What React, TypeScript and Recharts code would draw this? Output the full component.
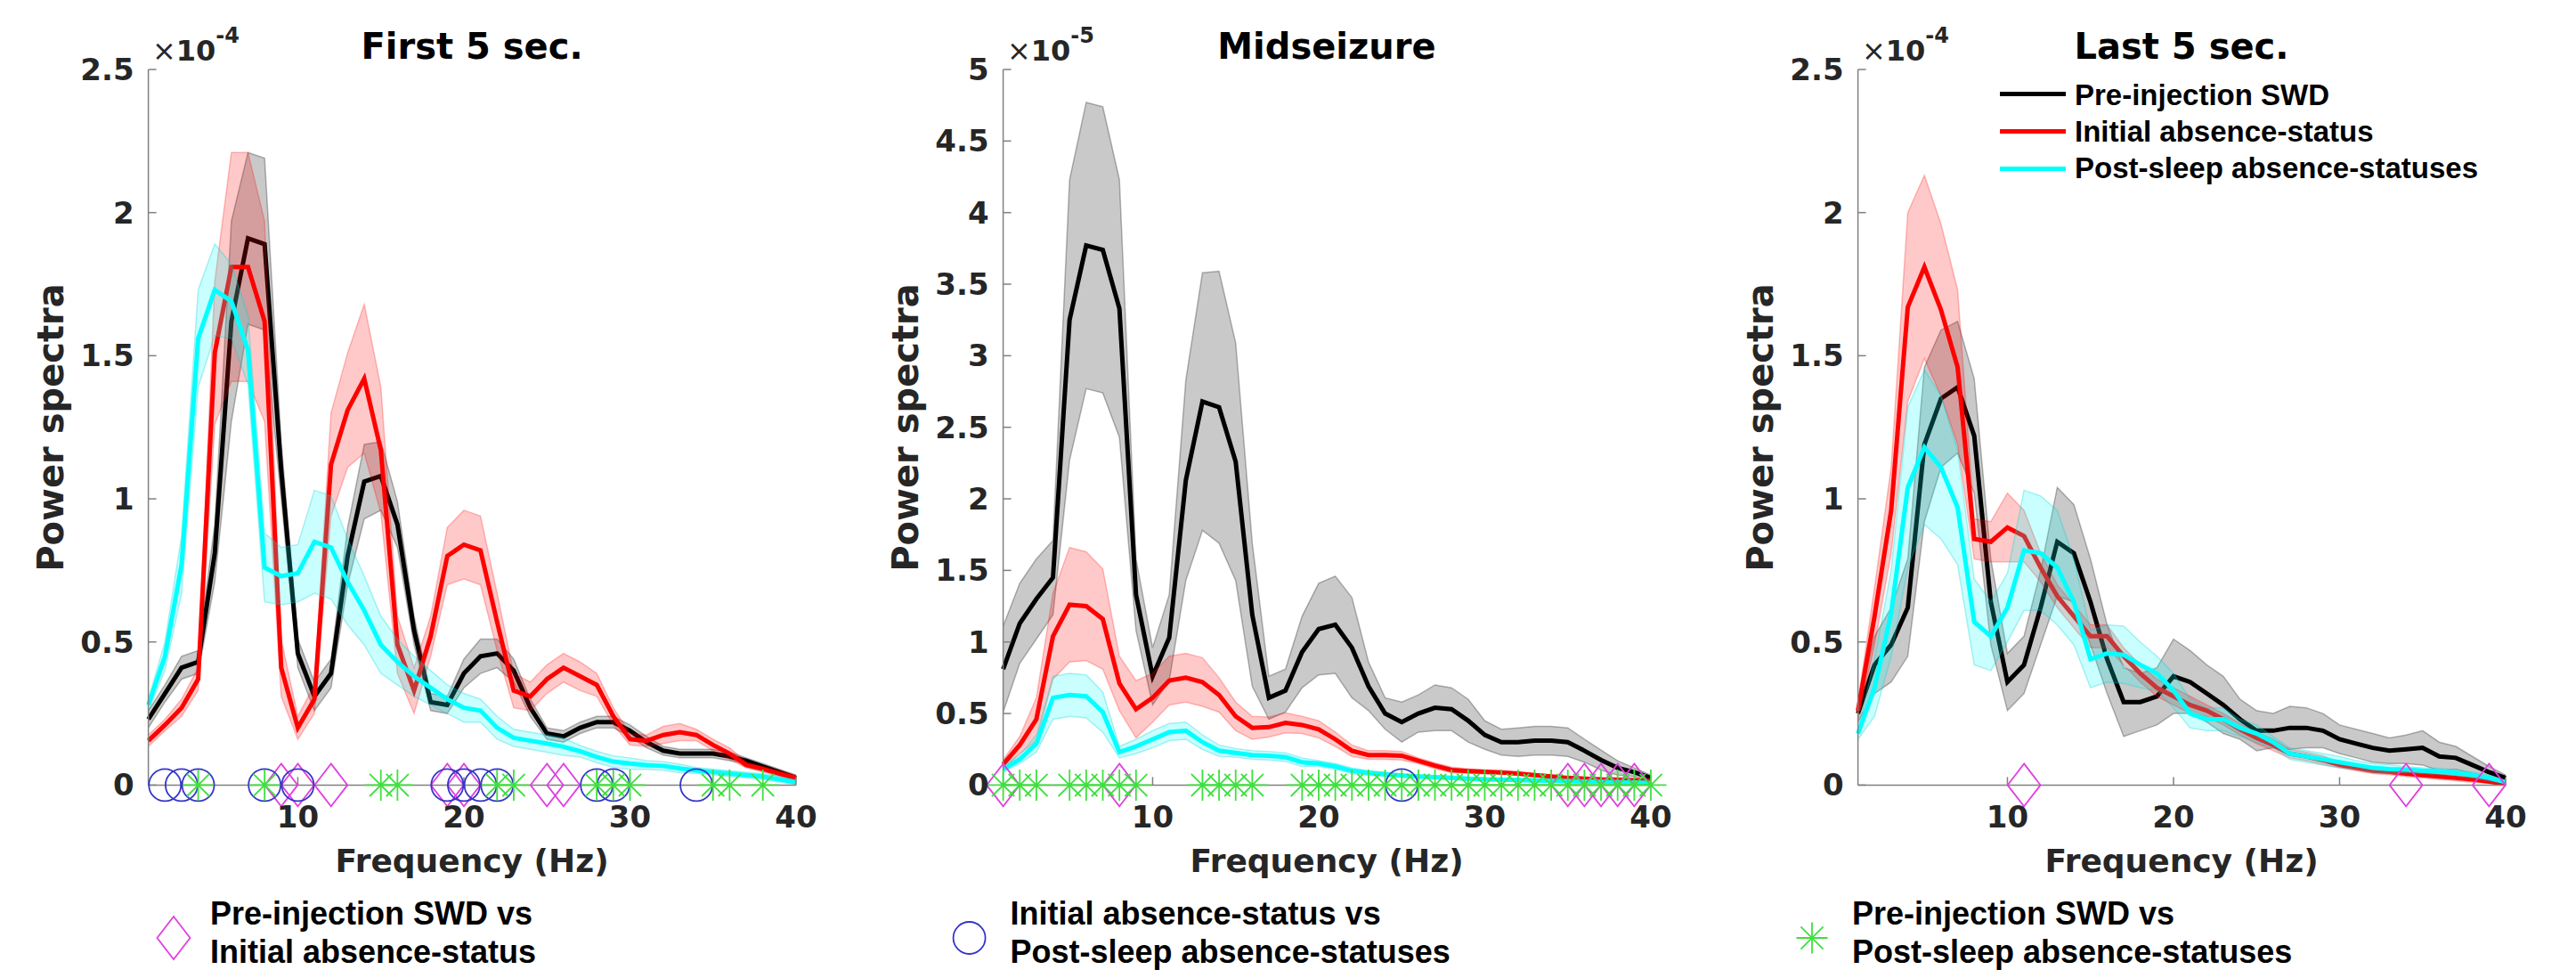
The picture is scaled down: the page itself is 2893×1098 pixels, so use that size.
import React from 'react';
import { ComposedChart, Line, Area, Scatter, XAxis, YAxis } from 'recharts';

const FONT_AXIS = "'DejaVu Sans', sans-serif";
const FONT_LEGEND = "'Liberation Sans', Arial, sans-serif";
const MAGENTA = '#e040e0';
const BLUE = '#3535c8';
const GREEN = '#3ee03e';
const AXIS_GRAY = '#808080';
const TEXT = '#262626';
const LINE_W = 5;

const freqs = [1, 2, 3, 4, 5, 6, 7, 8, 9, 10, 11, 12, 13, 14, 15, 16, 17, 18, 19, 20, 21, 22, 23, 24, 25, 26, 27, 28, 29, 30, 31, 32, 33, 34, 35, 36, 37, 38, 39, 40];
const xTicks = [10, 20, 30, 40];
const yTicks25 = [0, 0.5, 1, 1.5, 2, 2.5];
const yTicks5 = [0, 0.5, 1, 1.5, 2, 2.5, 3, 3.5, 4, 4.5, 5];

// First 5 sec. (x1e-4)
const firstPre = [0.23, 0.32, 0.41, 0.43, 0.81, 1.62, 1.91, 1.89, 1.1, 0.46, 0.31, 0.39, 0.8, 1.06, 1.08, 0.91, 0.54, 0.29, 0.28, 0.39, 0.45, 0.46, 0.4, 0.27, 0.18, 0.17, 0.2, 0.22, 0.22, 0.19, 0.15, 0.12, 0.11, 0.11, 0.11, 0.1, 0.085, 0.065, 0.045, 0.025];
const firstPreErr = [0.03, 0.03, 0.04, 0.04, 0.1, 0.35, 0.3, 0.3, 0.1, 0.05, 0.05, 0.05, 0.1, 0.13, 0.12, 0.08, 0.05, 0.03, 0.03, 0.05, 0.06, 0.05, 0.04, 0.03, 0.02, 0.02, 0.02, 0.02, 0.02, 0.02, 0.02, 0.015, 0.015, 0.015, 0.015, 0.015, 0.01, 0.01, 0.01, 0.01];
const firstInit = [0.155, 0.21, 0.27, 0.37, 1.51, 1.81, 1.81, 1.62, 0.41, 0.2, 0.3, 1.12, 1.31, 1.42, 1.17, 0.49, 0.33, 0.52, 0.8, 0.84, 0.82, 0.57, 0.33, 0.31, 0.37, 0.41, 0.38, 0.35, 0.24, 0.16, 0.155, 0.175, 0.185, 0.175, 0.14, 0.11, 0.07, 0.056, 0.04, 0.025];
const firstInitErr = [0.02, 0.02, 0.03, 0.04, 0.25, 0.4, 0.4, 0.35, 0.1, 0.04, 0.05, 0.18, 0.2, 0.26, 0.22, 0.1, 0.08, 0.07, 0.1, 0.12, 0.12, 0.1, 0.06, 0.05, 0.05, 0.05, 0.05, 0.04, 0.03, 0.02, 0.02, 0.03, 0.03, 0.02, 0.02, 0.02, 0.01, 0.01, 0.01, 0.01];
const firstPost = [0.28, 0.45, 0.77, 1.56, 1.73, 1.69, 1.52, 0.76, 0.73, 0.74, 0.85, 0.83, 0.71, 0.61, 0.49, 0.43, 0.38, 0.34, 0.3, 0.27, 0.26, 0.2, 0.165, 0.155, 0.145, 0.134, 0.118, 0.098, 0.082, 0.075, 0.07, 0.067, 0.058, 0.051, 0.046, 0.04, 0.035, 0.03, 0.02, 0.01];
const firstPostErr = [0.02, 0.05, 0.1, 0.17, 0.16, 0.13, 0.12, 0.12, 0.1, 0.1, 0.18, 0.18, 0.15, 0.12, 0.1, 0.08, 0.07, 0.06, 0.05, 0.05, 0.04, 0.04, 0.03, 0.03, 0.03, 0.03, 0.02, 0.02, 0.02, 0.02, 0.015, 0.015, 0.015, 0.01, 0.01, 0.01, 0.01, 0.01, 0.01, 0.008];
const firstDiamonds = [9, 10, 12, 19, 20, 25, 26];
const firstCircles = [2, 3, 4, 8, 10, 19, 20, 21, 22, 28, 29, 34];
const firstStars = [4, 8, 15, 16, 22, 23, 28, 29, 30, 35, 36, 38];

// Midseizure (x1e-5)
const midPre = [0.81, 1.13, 1.3, 1.45, 3.25, 3.77, 3.74, 3.33, 1.33, 0.76, 1.03, 2.13, 2.68, 2.64, 2.26, 1.19, 0.61, 0.66, 0.93, 1.09, 1.12, 0.96, 0.69, 0.5, 0.44, 0.5, 0.54, 0.53, 0.45, 0.35, 0.3, 0.3, 0.31, 0.31, 0.3, 0.24, 0.175, 0.12, 0.09, 0.05];
const midPreErr = [0.3, 0.28, 0.28, 0.26, 0.98, 1.0, 1.0, 0.9, 0.25, 0.2, 0.3, 0.7, 0.9, 0.95, 0.83, 0.5, 0.15, 0.15, 0.25, 0.32, 0.34, 0.35, 0.17, 0.11, 0.14, 0.13, 0.16, 0.15, 0.15, 0.1, 0.09, 0.1, 0.1, 0.1, 0.1, 0.08, 0.07, 0.05, 0.03, 0.02];
const midInit = [0.145, 0.28, 0.46, 1.04, 1.26, 1.25, 1.16, 0.71, 0.53, 0.61, 0.73, 0.75, 0.72, 0.63, 0.48, 0.4, 0.405, 0.435, 0.42, 0.39, 0.32, 0.24, 0.21, 0.21, 0.205, 0.17, 0.135, 0.105, 0.098, 0.092, 0.088, 0.08, 0.07, 0.06, 0.05, 0.045, 0.04, 0.038, 0.034, 0.03];
const midInitErr = [0.03, 0.06, 0.15, 0.3, 0.4, 0.38, 0.35, 0.19, 0.2, 0.17, 0.17, 0.17, 0.17, 0.12, 0.1, 0.08, 0.07, 0.07, 0.06, 0.06, 0.05, 0.04, 0.03, 0.03, 0.03, 0.02, 0.02, 0.02, 0.015, 0.015, 0.01, 0.01, 0.01, 0.01, 0.01, 0.01, 0.01, 0.01, 0.01, 0.01];
const midPost = [0.11, 0.18, 0.29, 0.61, 0.63, 0.62, 0.51, 0.23, 0.27, 0.32, 0.37, 0.38, 0.3, 0.24, 0.225, 0.21, 0.205, 0.195, 0.16, 0.15, 0.13, 0.1, 0.085, 0.075, 0.067, 0.06, 0.055, 0.05, 0.045, 0.04, 0.038, 0.035, 0.032, 0.03, 0.028, 0.025, 0.022, 0.02, 0.018, 0.015];
const midPostErr = [0.02, 0.03, 0.06, 0.15, 0.15, 0.15, 0.14, 0.04, 0.05, 0.06, 0.06, 0.06, 0.05, 0.04, 0.03, 0.03, 0.03, 0.03, 0.03, 0.02, 0.02, 0.02, 0.015, 0.015, 0.01, 0.01, 0.01, 0.01, 0.01, 0.01, 0.01, 0.01, 0.01, 0.01, 0.01, 0.01, 0.01, 0.01, 0.01, 0.01];
const midDiamonds = [1, 8, 35, 36, 37, 38, 39];
const midCircles = [25];
const midStars = [1, 2, 3, 5, 6, 7, 8, 9, 13, 14, 15, 16, 19, 20, 21, 22, 23, 24, 25, 26, 27, 28, 29, 30, 31, 32, 33, 34, 35, 36, 37, 38, 39, 40];

// Last 5 sec. (x1e-4)
const lastPre = [0.25, 0.42, 0.49, 0.62, 1.19, 1.35, 1.39, 1.22, 0.64, 0.36, 0.42, 0.62, 0.85, 0.81, 0.64, 0.44, 0.29, 0.29, 0.31, 0.38, 0.36, 0.32, 0.28, 0.23, 0.19, 0.19, 0.2, 0.2, 0.19, 0.16, 0.145, 0.13, 0.12, 0.125, 0.13, 0.1, 0.095, 0.07, 0.045, 0.025];
const lastPreErr = [0.03, 0.1, 0.13, 0.17, 0.27, 0.24, 0.23, 0.2, 0.15, 0.1, 0.1, 0.13, 0.19, 0.17, 0.15, 0.12, 0.12, 0.1, 0.1, 0.13, 0.11, 0.1, 0.1, 0.07, 0.07, 0.06, 0.075, 0.07, 0.06, 0.05, 0.05, 0.05, 0.045, 0.05, 0.06, 0.05, 0.04, 0.03, 0.02, 0.01];
const lastInit = [0.26, 0.59, 0.96, 1.67, 1.81, 1.66, 1.46, 0.86, 0.85, 0.9, 0.87, 0.76, 0.66, 0.59, 0.52, 0.52, 0.45, 0.39, 0.34, 0.31, 0.28, 0.26, 0.23, 0.195, 0.165, 0.14, 0.11, 0.1, 0.087, 0.07, 0.06, 0.05, 0.046, 0.04, 0.035, 0.03, 0.025, 0.02, 0.012, 0.004];
const lastInitErr = [0.03, 0.1, 0.15, 0.33, 0.32, 0.3, 0.27, 0.07, 0.07, 0.12, 0.09, 0.05, 0.04, 0.04, 0.04, 0.04, 0.03, 0.03, 0.03, 0.03, 0.03, 0.02, 0.02, 0.02, 0.02, 0.02, 0.015, 0.015, 0.015, 0.01, 0.01, 0.01, 0.01, 0.01, 0.01, 0.01, 0.01, 0.01, 0.005, 0.002];
const lastPost = [0.18, 0.34, 0.6, 1.04, 1.18, 1.11, 0.97, 0.57, 0.52, 0.62, 0.82, 0.81, 0.76, 0.64, 0.44, 0.46, 0.455, 0.42, 0.39, 0.33, 0.25, 0.23, 0.23, 0.2, 0.18, 0.15, 0.11, 0.1, 0.09, 0.08, 0.07, 0.06, 0.056, 0.054, 0.05, 0.048, 0.043, 0.035, 0.025, 0.01];
const lastPostErr = [0.02, 0.1, 0.15, 0.28, 0.27, 0.25, 0.2, 0.15, 0.12, 0.12, 0.21, 0.2, 0.2, 0.15, 0.1, 0.1, 0.1, 0.08, 0.06, 0.06, 0.05, 0.04, 0.04, 0.03, 0.03, 0.02, 0.02, 0.02, 0.02, 0.02, 0.015, 0.015, 0.015, 0.01, 0.01, 0.01, 0.01, 0.01, 0.01, 0.005];
const lastDiamonds = [11, 34, 39];
const lastCircles: number[] = [];
const lastStars: number[] = [];

const Diamond = ({ cx, cy }: { cx: number; cy: number }) => (
  <path d={`M${cx},${cy - 24} L${cx + 18.5},${cy} L${cx},${cy + 24} L${cx - 18.5},${cy} Z`} fill="none" stroke={MAGENTA} strokeWidth={1.8} />
);
const Ring = ({ cx, cy }: { cx: number; cy: number }) => (
  <circle cx={cx} cy={cy} r={18} fill="none" stroke={BLUE} strokeWidth={1.8} />
);
const Star = ({ cx, cy }: { cx: number; cy: number }) => {
  const r = 17.5;
  const d = r * 0.72;
  return (
    <path
      d={`M${cx - r},${cy} H${cx + r} M${cx},${cy - r} V${cy + r} M${cx - d},${cy - d} L${cx + d},${cy + d} M${cx - d},${cy + d} L${cx + d},${cy - d}`}
      fill="none"
      stroke={GREEN}
      strokeWidth={1.8}
    />
  );
};

const XTick = (props: any) => {
  const { x, y, payload } = props;
  return (
    <text x={x} y={y + 57} textAnchor="middle" fontFamily={FONT_AXIS} fontWeight="bold" fontSize={34} fill={TEXT}>
      {payload.value}
    </text>
  );
};

const YTick = (props: any) => {
  const { x, y, payload } = props;
  return (
    <text x={x - 25} y={y + 12} textAnchor="end" fontFamily={FONT_AXIS} fontWeight="bold" fontSize={34} fill={TEXT}>
      {payload.value}
    </text>
  );
};

interface PanelProps {
  left: number;
  pre: number[];
  preErr: number[];
  init: number[];
  initErr: number[];
  post: number[];
  postErr: number[];
  diamonds: number[];
  circles: number[];
  stars: number[];
  yTicks: number[];
}

function Panel({ left, pre, preErr, init, initErr, post, postErr, diamonds, circles, stars, yTicks }: PanelProps) {
  const rows = freqs.map((f, i) => ({
    f,
    bm: pre[i],
    bb: [pre[i] - preErr[i], pre[i] + preErr[i]],
    rm: init[i],
    rb: [init[i] - initErr[i], init[i] + initErr[i]],
    cm: post[i],
    cb: [post[i] - postErr[i], post[i] + postErr[i]],
  }));
  const toPts = (list: number[]) => list.map((f) => ({ f, v: 0 }));
  const yMax = yTicks[yTicks.length - 1];

  return (
    <div style={{ position: 'absolute', left, top: 0 }}>
      <ComposedChart width={960} height={1098} data={rows} margin={{ top: 78, right: 66, bottom: 156.6, left: 66.6 }}>
        <XAxis
          dataKey="f"
          type="number"
          domain={[1, 40]}
          ticks={xTicks}
          interval={0}
          height={60}
          tickSize={-9}
          tickMargin={0}
          axisLine={{ stroke: AXIS_GRAY, strokeWidth: 1.5 }}
          tickLine={{ stroke: AXIS_GRAY, strokeWidth: 1.5 }}
          tick={<XTick />}
          allowDecimals={false}
        />
        <YAxis
          type="number"
          domain={[0, yMax]}
          ticks={yTicks}
          interval={0}
          width={100}
          tickSize={-9}
          tickMargin={0}
          axisLine={{ stroke: AXIS_GRAY, strokeWidth: 1.5 }}
          tickLine={{ stroke: AXIS_GRAY, strokeWidth: 1.5 }}
          tick={<YTick />}
        />
        <Area dataKey="bb" type="linear" fill="#000000" fillOpacity={0.21} stroke="#000000" strokeOpacity={0.28} strokeWidth={1.5} dot={false} activeDot={false} isAnimationActive={false} zIndex={101} />
        <Line dataKey="bm" type="linear" stroke="#000000" strokeWidth={LINE_W} dot={false} activeDot={false} isAnimationActive={false} zIndex={102} />
        <Area dataKey="rb" type="linear" fill="#ff0000" fillOpacity={0.21} stroke="#ff0000" strokeOpacity={0.25} strokeWidth={1.5} dot={false} activeDot={false} isAnimationActive={false} zIndex={103} />
        <Line dataKey="rm" type="linear" stroke="#ff0000" strokeWidth={LINE_W} dot={false} activeDot={false} isAnimationActive={false} zIndex={104} />
        <Area dataKey="cb" type="linear" fill="#00ffff" fillOpacity={0.21} stroke="#00cccc" strokeOpacity={0.3} strokeWidth={1.5} dot={false} activeDot={false} isAnimationActive={false} zIndex={105} />
        <Line dataKey="cm" type="linear" stroke="#00ffff" strokeWidth={LINE_W} dot={false} activeDot={false} isAnimationActive={false} zIndex={106} />
        {diamonds.length > 0 && (
          <Scatter data={toPts(diamonds)} dataKey="v" isAnimationActive={false} shape={(p: any) => <Diamond cx={p.cx} cy={p.cy} />} />
        )}
        {circles.length > 0 && (
          <Scatter data={toPts(circles)} dataKey="v" isAnimationActive={false} shape={(p: any) => <Ring cx={p.cx} cy={p.cy} />} />
        )}
        {stars.length > 0 && (
          <Scatter data={toPts(stars)} dataKey="v" isAnimationActive={false} shape={(p: any) => <Star cx={p.cx} cy={p.cy} />} />
        )}
      </ComposedChart>
    </div>
  );
}

const titles = ['First 5 sec.', 'Midseizure', 'Last 5 sec.'];
const exponents = ['-4', '-5', '-4'];
const keyLines = [
  ['Pre-injection SWD vs', 'Initial absence-status'],
  ['Initial absence-status vs', 'Post-sleep absence-statuses'],
  ['Pre-injection SWD vs', 'Post-sleep absence-statuses'],
];
const seriesNames = ['Pre-injection SWD', 'Initial absence-status', 'Post-sleep absence-statuses'];
const seriesColors = ['#000000', '#ff0000', '#00ffff'];

function Overlay() {
  const keyMarkers = [
    <Diamond key="d" cx={195} cy={1053} />,
    <Ring key="c" cx={1088.6} cy={1053} />,
    <Star key="s" cx={2035} cy={1053} />,
  ];
  const keyTextX = [236, 1134.5, 2080];
  return (
    <svg width={2893} height={1098} style={{ position: 'absolute', left: 0, top: 0, pointerEvents: 'none' }}>
      {titles.map((t, i) => (
        <g key={t}>
          <text x={530 + i * 960} y={66} textAnchor="middle" fontFamily={FONT_AXIS} fontWeight="bold" fontSize={40} fill="#000">
            {t}
          </text>
          <text x={171 + i * 960} y={68} fontFamily={FONT_AXIS} fontSize={32} fill={TEXT}>
            <tspan>×</tspan>
            <tspan fontWeight="bold">10</tspan>
            <tspan fontWeight="bold" fontSize={24} dy={-20}>{exponents[i]}</tspan>
          </text>
          <text x={530 + i * 960} y={979} textAnchor="middle" fontFamily={FONT_AXIS} fontWeight="bold" fontSize={36} fill={TEXT}>
            Frequency (Hz)
          </text>
          <text
            x={57 + i * 960}
            y={480}
            textAnchor="middle"
            dominantBaseline="central"
            transform={`rotate(-90 ${57 + i * 960} 480)`}
            fontFamily={FONT_AXIS}
            fontWeight="bold"
            fontSize={40}
            fill={TEXT}
          >
            Power spectra
          </text>
          {keyMarkers[i]}
          <text x={keyTextX[i]} y={1038} fontFamily={FONT_LEGEND} fontWeight="bold" fontSize={36} fill="#000">
            {keyLines[i][0]}
          </text>
          <text x={keyTextX[i]} y={1081} fontFamily={FONT_LEGEND} fontWeight="bold" fontSize={36} fill="#000">
            {keyLines[i][1]}
          </text>
        </g>
      ))}
      {seriesNames.map((name, i) => (
        <g key={name}>
          <line x1={2246} x2={2320} y1={105.4 + i * 42} y2={105.4 + i * 42} stroke={seriesColors[i]} strokeWidth={5} />
          <text x={2330} y={118 + i * 41} fontFamily={FONT_LEGEND} fontWeight="bold" fontSize={33} fill="#000">
            {name}
          </text>
        </g>
      ))}
    </svg>
  );
}

export default function App() {
  return (
    <div style={{ position: 'absolute', left: 0, top: 0, width: 2893, height: 1098, background: '#fff' }}>
      <Panel left={0} pre={firstPre} preErr={firstPreErr} init={firstInit} initErr={firstInitErr} post={firstPost} postErr={firstPostErr} diamonds={firstDiamonds} circles={firstCircles} stars={firstStars} yTicks={yTicks25} />
      <Panel left={960} pre={midPre} preErr={midPreErr} init={midInit} initErr={midInitErr} post={midPost} postErr={midPostErr} diamonds={midDiamonds} circles={midCircles} stars={midStars} yTicks={yTicks5} />
      <Panel left={1920} pre={lastPre} preErr={lastPreErr} init={lastInit} initErr={lastInitErr} post={lastPost} postErr={lastPostErr} diamonds={lastDiamonds} circles={lastCircles} stars={lastStars} yTicks={yTicks25} />
      <Overlay />
    </div>
  );
}
